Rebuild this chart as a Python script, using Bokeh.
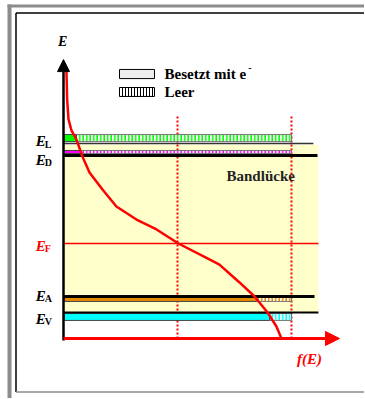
from bokeh.plotting import figure
from bokeh.models import Range1d, Arrow, NormalHead
from bokeh.core.properties import value
from bokeh.embed import file_html
from bokeh.resources import INLINE

# ---------------- data ----------------
# Fermi-type occupation curve f(E)
f_curve = [0.013, 0.016, 0.022, 0.035, 0.057, 0.083, 0.114, 0.171, 0.232,
           0.320, 0.408, 0.504, 0.640, 0.684, 0.772, 0.838, 0.895, 0.934, 0.956]
E_curve = [14.05, 12.58, 11.53, 10.95, 10.47, 9.58, 8.74, 7.84, 6.95,
           6.26, 5.74, 5.00, 4.16, 3.89, 2.95, 2.21, 1.37, 0.63, 0.00]

E_F = 5.0
level_names = ["L", "D", "A", "V"]
level_E = [10.55, 9.815, 2.055, 1.135]      # band centres
edge_E = [10.26, 9.63, 2.21, 1.37]          # black band edge lines
occupation = [0.057, 0.075, 0.846, 0.904]   # occupied fraction of each level
band_colors = ["#00FF00", "#FF00FF", "#E88A00", "#00FFFF"]
f_marks = [0.5, 1.0]
E_top = 14.68
f_end = 1.2105

# ---------------- figure ----------------
# canvas origin appears at page pixel (1, 1)
W, H = 364, 398
XR = ((1 - 64) / 228, (1 + W - 64) / 228)
YR = ((339 - 1 - H) / 19, (339 - 1) / 19)
p = figure(width=W, height=H, x_range=Range1d(*XR), y_range=Range1d(*YR),
           output_backend="svg", toolbar_location=None, min_border=0,
           x_axis_location=None, y_axis_location=None)
p.grid.visible = False
p.outline_line_color = None
p.background_fill_color = "white"

serif = value("Liberation Serif")

# frame decoration (gray outer band, black inner line)
gx0, gx1 = (8 - 64) / 228, (12 - 64) / 228
gy1, gy0 = (339 - 5) / 19, (339 - 8) / 19
p.quad(left=gx0, right=gx1, bottom=YR[0], top=gy1,
       fill_color="#8C8C8C", line_color=None)
p.quad(left=gx0, right=XR[1], bottom=gy0, top=gy1,
       fill_color="#8C8C8C", line_color=None)
bx = (16.5 - 64) / 228
by_top, by_bot = (339 - 13.5) / 19, (339 - 392.5) / 19
p.line([bx, bx], [by_bot, by_top], line_color="black", line_width=1.5)
p.line([bx, XR[1]], [by_top, by_top], line_color="black", line_width=1.5)
p.line([bx, XR[1]], [by_bot, by_bot], line_color="#8C8C8C", line_width=1.5)

# band gap region
p.quad(left=0, right=1.118, bottom=edge_E[3], top=edge_E[0] - 0.06,
       fill_color="#FFFFCC", line_color=None)

# Fermi level
p.line([0, 1.118], [E_F, E_F], line_color="red", line_width=1.6)

# dotted markers
for fm in f_marks:
    p.line([fm, fm], [0, 11.68], line_color="red", line_width=2, line_dash="2 2")

# bands
half = [0.185, 0.08, 0.105, 0.185]
edge_color = ["#333333", "black", "black", "black"]
edge_lw = [1.6, 3, 3, 2]
edge_end = [1.096, 1.114, 1.101, 1.118]
for i in range(4):
    c = band_colors[i]
    lo, hi = level_E[i] - half[i], level_E[i] + half[i]
    p.quad(left=occupation[i], right=1.0, bottom=lo, top=hi,
           fill_color="white", hatch_pattern="vertical_line", hatch_color=c,
           hatch_scale=3.5, hatch_weight=1.6, line_color="#777777", line_width=1)
    p.quad(left=0.004, right=occupation[i], bottom=lo, top=hi,
           fill_color=c, line_color="#444444", line_width=1)
    p.line([0, edge_end[i]], [edge_E[i], edge_E[i]],
           line_color=edge_color[i], line_width=edge_lw[i])

# occupation curve
p.line(f_curve, E_curve, line_color="red", line_width=2.5)

# axes
p.add_layout(Arrow(end=NormalHead(size=12, fill_color="black", line_color="black"),
                   x_start=0, y_start=-0.1, x_end=0, y_end=E_top,
                   line_color="black", line_width=2.5))
p.add_layout(Arrow(end=NormalHead(size=14, fill_color="red", line_color="red"),
                   x_start=0, y_start=0, x_end=f_end, y_end=0,
                   line_color="red", line_width=3))

# legend
p.quad(left=0.2456, right=0.399, bottom=13.68, top=14.16,
       fill_color="#EEEEEE", line_color="black", line_width=1)
p.quad(left=0.2456, right=0.399, bottom=12.74, top=13.21,
       fill_color="white", hatch_pattern="vertical_line", hatch_color="black",
       hatch_scale=3, hatch_weight=1, line_color="black", line_width=1)
p.text(x=[0.443], y=[13.92], text=["Besetzt mit e"], text_font=serif,
       text_font_style="bold", text_font_size="15px", text_baseline="middle",
       text_color="black")
p.text(x=[0.81], y=[14.25], text=["-"], text_font=serif,
       text_font_style="bold", text_font_size="10px", text_baseline="middle",
       text_color="black")
p.text(x=[0.443], y=[12.97], text=["Leer"], text_font=serif,
       text_font_style="bold", text_font_size="15px", text_baseline="middle",
       text_color="black")

# texts
p.text(x=[0.715], y=[8.53], text=["Bandlücke"], text_font=serif,
       text_font_style="bold", text_font_size="15px", text_baseline="middle",
       text_color="#222222")
p.text(x=[-0.004], y=[15.63], text=["E"], text_font=serif,
       text_font_style="bold italic", text_font_size="14px", text_baseline="middle",
       text_align="center", text_color="black")
p.text(x=[1.079], y=[-1.105], text=["f(E)"], text_font=serif,
       text_font_style="bold italic", text_font_size="15px", text_baseline="middle",
       text_align="center", text_color="red")

label_dy = [0.11, -0.21, 0.05, -0.32]
lab_y = [edge_E[i] + label_dy[i] for i in range(4)] + [E_F - 0.11]
lab_sub = level_names + ["F"]
lab_col = ["black"] * 4 + ["red"]
p.text(x=[-0.122] * 5, y=lab_y, text=["E"] * 5, text_font=serif,
       text_font_style="bold italic", text_font_size="15px", text_baseline="middle",
       text_color=lab_col)
p.text(x=[-0.082] * 5, y=[v - 0.17 for v in lab_y], text=lab_sub, text_font=serif,
       text_font_style="bold", text_font_size="10px", text_baseline="middle",
       text_color=lab_col)

open("out.html", "w").write(file_html(p, INLINE))
